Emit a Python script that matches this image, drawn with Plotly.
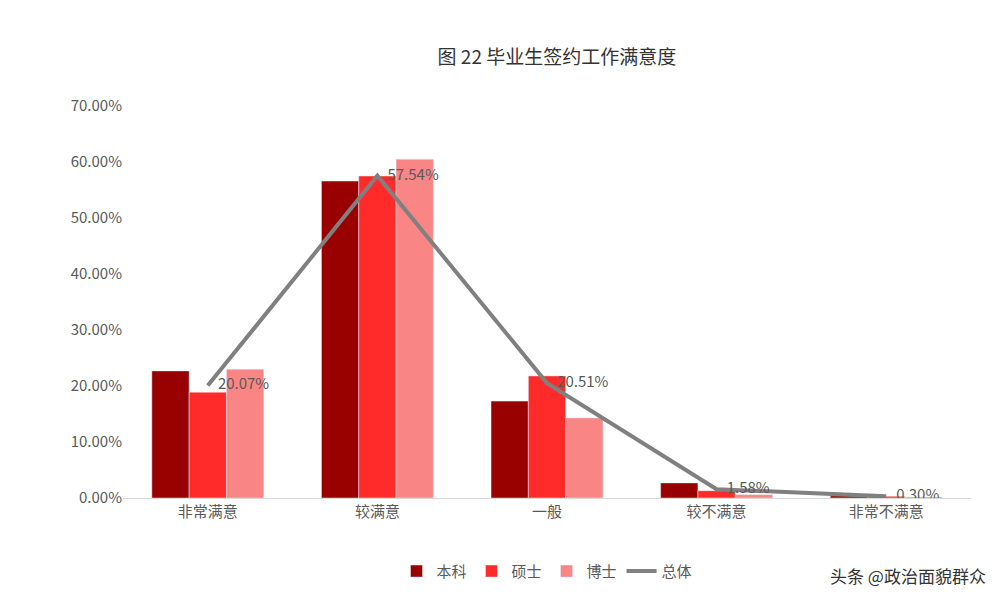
import plotly.graph_objects as go

categories = ["非常满意", "较满意", "一般", "较不满意", "非常不满意"]
benke = [22.7, 56.6, 17.3, 2.7, 0.4]
shuoshi = [18.9, 57.5, 21.8, 1.3, 0.3]
boshi = [23.0, 60.5, 14.3, 0.6, 0.2]
zongti = [20.07, 57.54, 20.51, 1.58, 0.30]
zongti_labels = ["   20.07%", "   57.54%", "   20.51%", "   1.58%", "   0.30%"]

font = "Noto Sans CJK SC"
fig = go.Figure()
fig.add_bar(x=categories, y=benke, name="本科", marker_color="#990000")
fig.add_bar(x=categories, y=shuoshi, name="硕士", marker_color="#ff2b2b")
fig.add_bar(x=categories, y=boshi, name="博士", marker_color="#f98585")
fig.add_scatter(x=categories, y=zongti, name="总体", mode="lines+text",
                line=dict(color="#808080", width=4), text=zongti_labels,
                textposition="middle right", textfont=dict(size=15, color="#595959"))
fig.update_layout(
    width=998, height=606, plot_bgcolor="white", paper_bgcolor="white",
    font=dict(family=font, size=15, color="#595959"),
    title=dict(text="图 22 毕业生签约工作满意度", x=0.55, y=0.93, font=dict(size=19, color="#333")),
    barmode="group", bargap=0.34, bargroupgap=0,
    margin=dict(l=115, r=35, t=98, b=116),
    legend=dict(orientation="h", x=0.5, xanchor="center", y=-0.145, yanchor="top", font=dict(size=15)),
    xaxis=dict(showline=True, linecolor="#d9d9d9", ticks="", tickfont=dict(size=15)),
    yaxis=dict(range=[0, 70], dtick=10, ticksuffix=".00%", showgrid=False, tickfont=dict(size=15)),
    annotations=[dict(text="头条 @政治面貌群众", xref="paper", yref="paper", x=1.02, y=-0.16,
                      xanchor="right", yanchor="top", showarrow=False,
                      font=dict(size=17, color="#333"))],
)
fig.write_html("out.html")
